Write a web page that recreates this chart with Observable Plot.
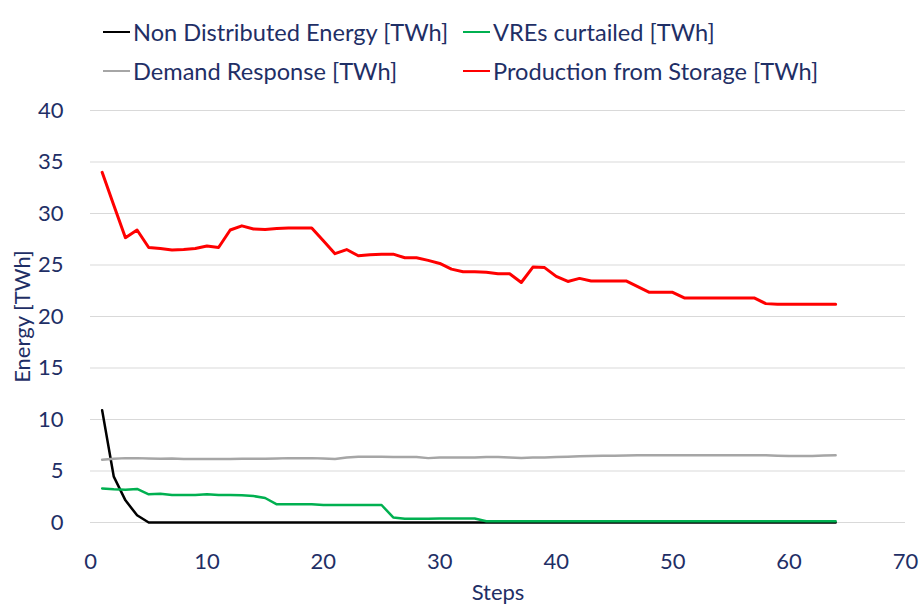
<!DOCTYPE html>
<html>
<head>
<meta charset="utf-8">
<script src="https://cdn.jsdelivr.net/npm/d3@7"></script>
<script src="https://cdn.jsdelivr.net/npm/@observablehq/plot@0.6"></script>
<style>
  html, body { margin: 0; padding: 0; background: #fff; }
  #wrap { width: 919px; height: 605px; position: relative; font-family: Lato, "Open Sans", sans-serif; color: #1f2f66; }
  #legend { position: relative; height: 90px; width: 919px; }
  .item { position: absolute; display: flex; align-items: center; font-size: 23.6px; white-space: nowrap; }
  .swatch { width: 27px; height: 2.5px; margin-right: 3px; }
</style>
</head>
<body>
<div id="wrap">
  <div id="legend"></div>
  <div id="chart"></div>
</div>
<script>
// ---- data ----
const steps = [1,2,3,4,5,6,7,8,9,10,11,12,13,14,15,16,17,18,19,20,21,22,23,24,25,26,27,28,29,30,31,32,
  33,34,35,36,37,38,39,40,41,42,43,44,45,46,47,48,49,50,51,52,53,54,55,56,57,58,59,60,61,62,63,64];

const nonDistributed = [10.9,4.45,2.15,0.7,0,0,0,0,0,0,0,0,0,0,0,0,0,0,0,0,0,0,0,0,0,0,0,0,0,0,0,0,
  0,0,0,0,0,0,0,0,0,0,0,0,0,0,0,0,0,0,0,0,0,0,0,0,0,0,0,0,0,0,0,0];

const vresCurtailed = [3.3,3.22,3.19,3.26,2.74,2.8,2.67,2.67,2.67,2.74,2.67,2.67,2.64,2.57,2.38,1.76,
  1.76,1.76,1.76,1.7,1.7,1.7,1.7,1.7,1.7,0.49,0.36,0.36,0.36,0.38,0.39,0.39,0.39,0.13,0.13,0.13,
  0.13,0.13,0.13,0.13,0.13,0.13,0.13,0.13,0.13,0.13,0.13,0.13,0.13,0.13,0.13,0.13,0.13,0.13,0.13,0.13,
  0.13,0.13,0.13,0.13,0.13,0.13,0.13,0.13];

const demandResponse = [6.09,6.19,6.25,6.25,6.22,6.19,6.22,6.16,6.16,6.16,6.16,6.16,6.19,6.19,6.19,6.22,
  6.25,6.25,6.25,6.22,6.16,6.32,6.38,6.38,6.38,6.35,6.35,6.35,6.25,6.32,6.32,6.32,6.32,6.36,6.35,6.32,
  6.27,6.3,6.32,6.35,6.38,6.42,6.45,6.47,6.48,6.5,6.52,6.54,6.54,6.54,6.54,6.54,6.54,6.54,6.54,6.54,
  6.54,6.52,6.48,6.46,6.46,6.46,6.5,6.52];

const productionStorage = [34.0,30.8,27.65,28.4,26.7,26.6,26.45,26.5,26.6,26.85,26.7,28.4,28.8,28.5,28.45,28.55,
  28.6,28.6,28.6,27.35,26.1,26.5,25.9,26.0,26.05,26.05,25.7,25.7,25.45,25.15,24.6,24.35,24.35,24.3,24.15,24.15,
  23.3,24.8,24.75,23.9,23.4,23.7,23.45,23.45,23.45,23.45,22.9,22.35,22.35,22.35,21.8,21.8,21.8,21.8,21.8,21.8,
  21.8,21.25,21.2,21.2,21.2,21.2,21.2,21.2];

const seriesNames = ["Non Distributed Energy [TWh]", "VREs curtailed [TWh]", "Demand Response [TWh]", "Production from Storage [TWh]"];
const seriesColors = ["#000000", "#00b050", "#a6a6a6", "#ff0000"];
const xTicks = [0,10,20,30,40,50,60,70];
const yTicks = [0,5,10,15,20,25,30,35,40];

// ---- legend ----
const legendPos = [[103, 33], [463, 33], [103, 72], [463, 72]];
const legend = document.getElementById("legend");
seriesNames.forEach((name, i) => {
  const it = document.createElement("div");
  it.className = "item";
  it.style.left = legendPos[i][0] + "px";
  it.style.top = (legendPos[i][1] - 15) + "px";
  it.style.height = "28px";
  const sw = document.createElement("span");
  sw.className = "swatch";
  sw.style.background = seriesColors[i];
  const tx = document.createElement("span");
  tx.textContent = name;
  it.appendChild(sw); it.appendChild(tx);
  legend.appendChild(it);
});

// ---- chart ----
const allSeries = [nonDistributed, vresCurtailed, demandResponse, productionStorage];
const widths = [2.5, 2.5, 2.5, 3];
const lineMarks = allSeries.map((vals, i) =>
  Plot.line(steps.map((s, j) => ({step: s, value: vals[j]})), {
    x: "step", y: "value", stroke: seriesColors[i], strokeWidth: widths[i], strokeLinejoin: "round"
  })
);

const chart = Plot.plot({
  width: 919,
  height: 515,
  marginLeft: 90,
  marginRight: 14,
  marginTop: 20,
  marginBottom: 83,
  style: { fontFamily: "Lato, 'Open Sans', sans-serif", fontSize: "22px", color: "#1f2f66", background: "#fff" },
  x: { domain: [0, 70] },
  y: { domain: [0, 40] },
  marks: [
    Plot.ruleY(yTicks, { stroke: "#d9d9d9", strokeWidth: 1 }),
    ...lineMarks,
    Plot.axisX(xTicks, { tickSize: 0, tickPadding: 31, label: null, fontSize: 22 }),
    Plot.axisY(yTicks, { tickSize: 0, tickPadding: 27, label: null, fontSize: 22 }),
    Plot.text(["Steps"], { frameAnchor: "bottom", dy: 70, lineAnchor: "middle", fontSize: 22, fill: "#1f2f66" }),
    Plot.text(["Energy [TWh]"], { frameAnchor: "left", dx: -68, rotate: -90, textAnchor: "middle", fontSize: 22, fill: "#1f2f66" })
  ]
});
document.getElementById("chart").appendChild(chart);
</script>
</body>
</html>
